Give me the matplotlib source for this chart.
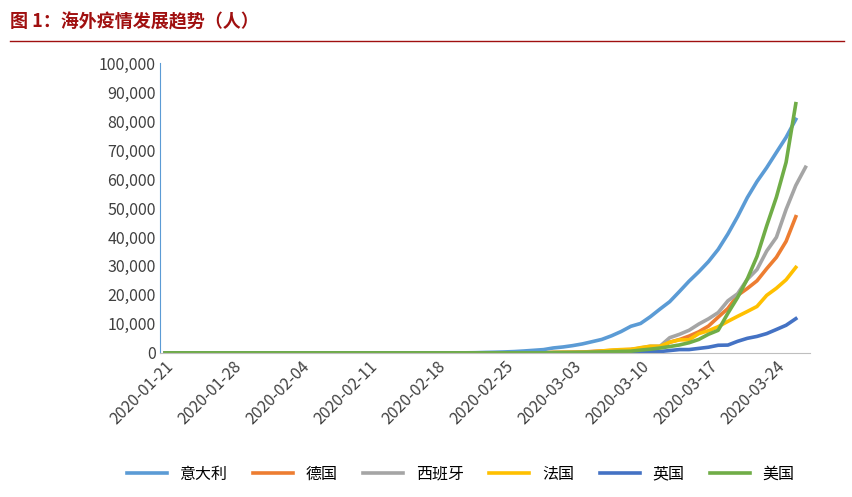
import numpy as np
import pandas as pd
import matplotlib
matplotlib.use("Agg")
import matplotlib.pyplot as plt
import matplotlib.dates as mdates
from matplotlib.ticker import FuncFormatter

plt.rcParams["font.family"] = ["Noto Sans CJK SC", "DejaVu Sans"]

# cumulative cases from 2020-03-01 (earlier days are near zero)
italy_feb = [0, 0, 0, 0, 0, 0, 0, 0, 0, 0, 0, 0, 0, 0, 0, 0, 0, 0, 0, 0, 0, 0, 0, 0, 0, 0, 0, 0, 0, 0,
             0, 20, 62, 155, 229, 322, 453, 655, 888, 1128]  # Jan 21 .. Feb 29
italy = [1694, 2036, 2502, 3089, 3858, 4636, 5883, 7375, 9172, 10149, 12462, 15113, 17660,
         21157, 24747, 27980, 31506, 35713, 41035, 47021, 53578, 59138, 63927, 69176, 74386, 80589]
germany = [130, 159, 196, 262, 482, 670, 799, 1040, 1176, 1457, 1908, 2078, 3675, 4585, 5795,
           7272, 9257, 12327, 15320, 19848, 22213, 24873, 29056, 32986, 38500, 47000]
spain = [84, 120, 165, 222, 259, 400, 500, 673, 1073, 1695, 2277, 2277, 5232, 6391, 7798, 9942,
         11748, 13910, 17963, 20410, 25374, 28768, 35136, 39885, 49515, 57786, 64059]
france = [130, 191, 204, 288, 380, 656, 957, 1134, 1217, 1792, 2289, 2289, 3672, 4480, 4513,
          6650, 7652, 9043, 10871, 12612, 14282, 16018, 19856, 22304, 25233, 29500]
uk = [36, 40, 51, 86, 116, 164, 209, 278, 321, 383, 460, 460, 798, 1140, 1140, 1543, 1950,
      2626, 2689, 3983, 5018, 5683, 6650, 8077, 9529, 11800]
usa = [74, 98, 118, 149, 217, 262, 402, 518, 583, 959, 1281, 1663, 2179, 2727, 3499, 4632,
       6421, 7786, 13680, 19101, 25493, 33276, 43847, 53740, 65778, 86000]
early_other = [0] * 40  # Jan 21 .. Feb 29, small counts

series = [
    ("意大利", italy_feb + italy, "#5B9BD5"),
    ("德国", early_other + germany, "#ED7D31"),
    ("西班牙", early_other + spain, "#A5A5A5"),
    ("法国", early_other + france, "#FFC000"),
    ("英国", early_other + uk, "#4472C4"),
    ("美国", early_other + usa, "#70AD47"),
]
start = pd.Timestamp("2020-01-21")

fig = plt.figure(figsize=(8.53, 4.97), dpi=100)
fig.text(0.012, 0.955, "图 1：海外疫情发展趋势（人）", color="#A01010", fontsize=13,
         fontweight="bold", va="center")
fig.add_artist(plt.Line2D([0.012, 0.99], [0.918, 0.918], color="#A01010", lw=1))

ax = fig.add_axes([0.188, 0.29, 0.762, 0.583])
for name, vals, col in series:
    dates = pd.date_range(start, periods=len(vals), freq="D")
    ax.plot(dates, vals, color=col, lw=2.6, label=name)

ax.set_ylim(0, 100000)
ax.set_yticks(np.arange(0, 100001, 10000))
ax.yaxis.set_major_formatter(FuncFormatter(lambda v, p: f"{int(v):,}"))
ax.set_xlim(pd.Timestamp("2020-01-20 12:00"), pd.Timestamp("2020-03-27 12:00"))
ax.set_xticks(pd.date_range(start, "2020-03-24", freq="7D"))
ax.xaxis.set_major_formatter(mdates.DateFormatter("%Y-%m-%d"))
plt.setp(ax.get_xticklabels(), rotation=45, ha="right", rotation_mode="anchor")
ax.tick_params(length=0, labelsize=11.5, colors="#404040")
for s in ("top", "right"):
    ax.spines[s].set_visible(False)
ax.spines["left"].set_color("#5B9BD5")
ax.spines["bottom"].set_color("#BFBFBF")

fig.legend(loc="lower center", ncol=6, frameon=False, fontsize=11.5,
           bbox_to_anchor=(0.54, 0.0), handlelength=2.5, columnspacing=1.6)
fig.savefig("out.png", dpi=100)
